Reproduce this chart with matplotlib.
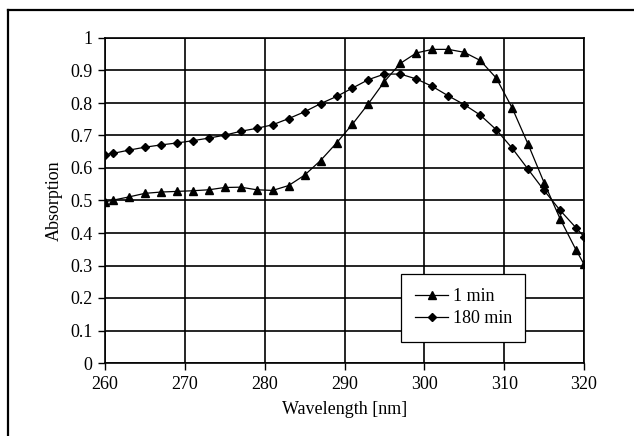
import matplotlib
matplotlib.use("Agg")
import matplotlib.pyplot as plt
from matplotlib.lines import Line2D

plt.rcParams['font.family'] = ['Liberation Serif', 'DejaVu Serif']

# wavelength in nm
wavelength = [260, 261, 263, 265, 267, 269, 271, 273, 275, 277, 279, 281,
              283, 285, 287, 289, 291, 293, 295, 297, 299, 301, 303, 305,
              307, 309, 311, 313, 315, 317, 319, 320]

abs_1min = [0.496, 0.501, 0.511, 0.522, 0.526, 0.528, 0.530, 0.533, 0.540,
            0.541, 0.533, 0.531, 0.546, 0.578, 0.623, 0.677, 0.735, 0.798,
            0.866, 0.922, 0.954, 0.965, 0.965, 0.956, 0.931, 0.877, 0.785,
            0.673, 0.555, 0.444, 0.348, 0.304]

abs_180min = [0.641, 0.645, 0.655, 0.664, 0.671, 0.677, 0.684, 0.692, 0.701,
              0.713, 0.722, 0.733, 0.752, 0.773, 0.798, 0.820, 0.846, 0.872,
              0.889, 0.889, 0.874, 0.851, 0.822, 0.795, 0.763, 0.718, 0.661,
              0.596, 0.531, 0.470, 0.416, 0.389]

xticks = [260, 270, 280, 290, 300, 310, 320]
yticks = [0, 0.1, 0.2, 0.3, 0.4, 0.5, 0.6, 0.7, 0.8, 0.9, 1.0]
ylabels = ['0', '0.1', '0.2', '0.3', '0.4', '0.5', '0.6', '0.7', '0.8', '0.9', '1']

W, H = 634, 436
fig = plt.figure(figsize=(W / 100, H / 100), dpi=100)
ax = fig.add_axes([105 / W, (H - 363) / H, (584 - 105) / W, 325 / H])

ax.plot(wavelength, abs_1min, color='black', lw=0.9, marker='^', ms=5.5,
        label='1 min', zorder=3)
ax.plot(wavelength, abs_180min, color='black', lw=0.9, marker='D', ms=4.5,
        label='180 min', zorder=3)

ax.set_xlim(260, 320)
ax.set_ylim(0, 1)
ax.set_xticks(xticks)
ax.set_yticks(yticks)
ax.set_yticklabels(ylabels)
ax.grid(True, color='black', lw=1.2)
ax.set_axisbelow(True)
for s in ax.spines.values():
    s.set_color('black')
    s.set_linewidth(1.2)
ax.tick_params(direction='out', length=5, width=1, labelsize=13, colors='black', pad=4)

ax.set_xlabel('Wavelength [nm]', fontsize=13, labelpad=6)
ax.set_ylabel('Absorption', fontsize=13, labelpad=5)

leg = ax.legend(loc='lower left', bbox_to_anchor=(0.618, 0.065, 0.259, 0.2),
                mode='expand', borderaxespad=0, fancybox=False, framealpha=1,
                edgecolor='black', fontsize=13, handlelength=1.8,
                handletextpad=0.3, borderpad=0.8, labelspacing=0.3)
leg.get_frame().set_linewidth(0.9)

# outer frame (left and top edges visible)
fig.add_artist(Line2D([8 / W, 8 / W], [0, 1 - 10 / H], color='black', lw=1.6))
fig.add_artist(Line2D([8 / W, 1], [1 - 10 / H, 1 - 10 / H], color='black', lw=1.6))

fig.savefig('out.png', dpi=100)
